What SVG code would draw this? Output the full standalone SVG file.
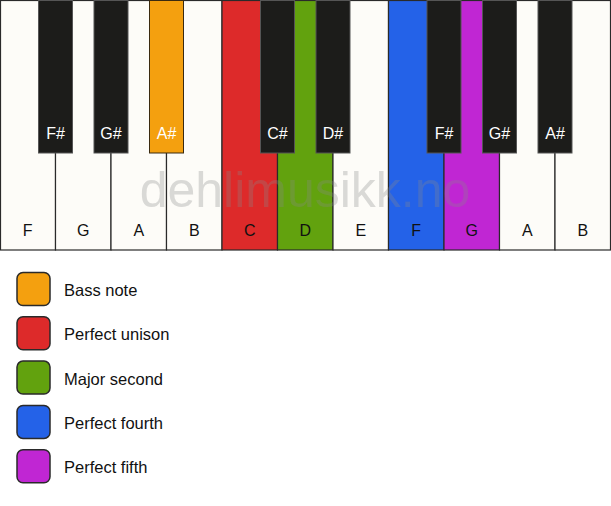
<svg xmlns="http://www.w3.org/2000/svg" width="611" height="506" viewBox="0 0 611 506">
<style>
.w{fill:#fdfcf8;stroke:#2a2a2a;stroke-width:1.2}
.b{fill:#1c1c1a;stroke:#555;stroke-width:1}
.lw{font-family:"Liberation Sans",Arial,sans-serif;font-size:16px;fill:#111;text-anchor:middle}
.lb{font-family:"Liberation Sans",Arial,sans-serif;font-size:16px;fill:#fff;text-anchor:middle}
.sw{stroke:#2a2a2a;stroke-width:1.5}
.lt{font-family:"Liberation Sans",Arial,sans-serif;font-size:16.5px;fill:#111}
</style>
<rect width="611" height="506" fill="#ffffff"/>
<g id="white-keys">
<g id="key-F1"><rect class="w" x="0.5" y="0.5" width="55" height="249.5"/><text class="lw" x="27.75" y="236">F</text></g>
<g id="key-G1"><rect class="w" x="55.5" y="0.5" width="55.5" height="249.5"/><text class="lw" x="83.25" y="236">G</text></g>
<g id="key-A1"><rect class="w" x="111" y="0.5" width="55.5" height="249.5"/><text class="lw" x="138.75" y="236">A</text></g>
<g id="key-B1"><rect class="w" x="166.5" y="0.5" width="55.5" height="249.5"/><text class="lw" x="194.25" y="236">B</text></g>
<g id="key-C"><rect class="w" x="222" y="0.5" width="55.5" height="249.5" style="fill:#dd2a2a"/><text class="lw" x="249.75" y="236">C</text></g>
<g id="key-D"><rect class="w" x="277.5" y="0.5" width="55.5" height="249.5" style="fill:#62a20e"/><text class="lw" x="305.25" y="236">D</text></g>
<g id="key-E"><rect class="w" x="333" y="0.5" width="55.5" height="249.5"/><text class="lw" x="360.75" y="236">E</text></g>
<g id="key-F2"><rect class="w" x="388.5" y="0.5" width="55.5" height="249.5" style="fill:#2462e8"/><text class="lw" x="416.25" y="236">F</text></g>
<g id="key-G2"><rect class="w" x="444" y="0.5" width="55.5" height="249.5" style="fill:#c026d3"/><text class="lw" x="471.75" y="236">G</text></g>
<g id="key-A2"><rect class="w" x="499.5" y="0.5" width="55.5" height="249.5"/><text class="lw" x="527.25" y="236">A</text></g>
<g id="key-B2"><rect class="w" x="555" y="0.5" width="55.5" height="249.5"/><text class="lw" x="582.75" y="236">B</text></g>
</g>
<text x="305" y="207" font-family="'Liberation Sans',Arial,sans-serif" font-size="50" fill="#888" fill-opacity="0.3" text-anchor="middle">dehlimusikk.no</text>
<g id="black-keys">
<g id="key-Fs1"><rect class="b" x="38.5" y="0.5" width="34" height="152.5"/><text class="lb" x="55.5" y="139">F#</text></g>
<g id="key-Gs1"><rect class="b" x="94" y="0.5" width="34" height="152.5"/><text class="lb" x="111" y="139">G#</text></g>
<g id="key-As1"><rect class="b" x="149.5" y="0.5" width="34" height="152.5" style="fill:#f4a00f;stroke:#3a2a10"/><text class="lb" x="166.5" y="139">A#</text></g>
<g id="key-Cs"><rect class="b" x="260.5" y="0.5" width="34" height="152.5"/><text class="lb" x="277.5" y="139">C#</text></g>
<g id="key-Ds"><rect class="b" x="316" y="0.5" width="34" height="152.5"/><text class="lb" x="333" y="139">D#</text></g>
<g id="key-Fs2"><rect class="b" x="427" y="0.5" width="34" height="152.5"/><text class="lb" x="444" y="139">F#</text></g>
<g id="key-Gs2"><rect class="b" x="482.5" y="0.5" width="34" height="152.5"/><text class="lb" x="499.5" y="139">G#</text></g>
<g id="key-As2"><rect class="b" x="538" y="0.5" width="34" height="152.5"/><text class="lb" x="555" y="139">A#</text></g>
</g>
<g id="legend">
<g id="legend-bass"><rect class="sw" x="17" y="272.5" width="33" height="33" rx="6" fill="#f4a00f"/><text class="lt" x="64" y="296">Bass note</text></g>
<g id="legend-unison"><rect class="sw" x="17" y="316.8" width="33" height="33" rx="6" fill="#dd2a2a"/><text class="lt" x="64" y="340.3">Perfect unison</text></g>
<g id="legend-second"><rect class="sw" x="17" y="361.1" width="33" height="33" rx="6" fill="#62a20e"/><text class="lt" x="64" y="384.6">Major second</text></g>
<g id="legend-fourth"><rect class="sw" x="17" y="405.4" width="33" height="33" rx="6" fill="#2462e8"/><text class="lt" x="64" y="428.9">Perfect fourth</text></g>
<g id="legend-fifth"><rect class="sw" x="17" y="449.7" width="33" height="33" rx="6" fill="#c026d3"/><text class="lt" x="64" y="473.2">Perfect fifth</text></g>
</g>
<g id="connectors"></g>
</svg>
